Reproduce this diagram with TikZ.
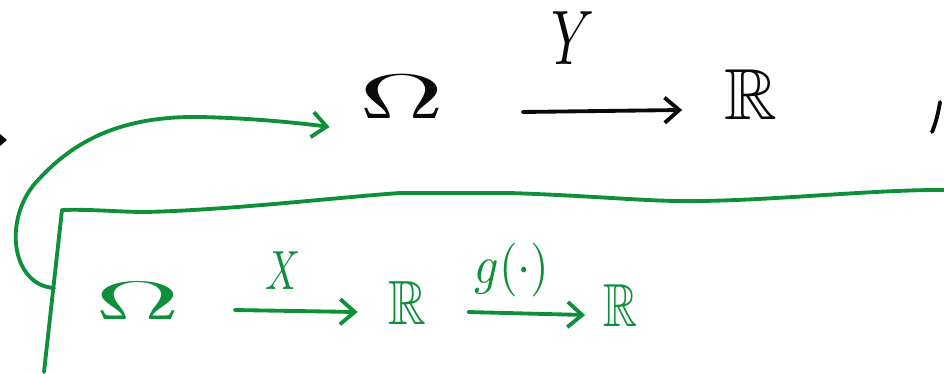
\documentclass[tikz,border=0pt]{standalone}
\usepackage{amssymb}
\usetikzlibrary{arrows.meta}
\definecolor{ink}{RGB}{10,10,10}
\definecolor{pen}{RGB}{14,143,58}
\begin{document}
\begin{tikzpicture}[x=0.0265cm,y=-0.0265cm,
  stroke/.style={line width=2.9pt, line cap=round, line join=round},
  arr/.style={stroke, -{Straight Barb[length=11pt,width=19pt,line width=2.9pt]}},
  sym/.style={inner sep=0pt, outer sep=0pt}]
\useasboundingbox (0,0) rectangle (944,373);
\clip (0,0) rectangle (944,373);

% upper row: Y maps Omega into the reals
\node[sym, ink] (om1) at (402,97) {\resizebox{2.25cm}{1.14cm}{$\Omega$}};
\node[sym, ink] (r1) at (751,95) {\resizebox{1.40cm}{1.32cm}{$\mathbb{R}$}};
\node[sym, ink] (ylab) at (573,38) {\resizebox{1.14cm}{1.40cm}{$Y$}};
\draw[arr, ink] ([xshift=59pt,yshift=-11.3pt]om1.east) -- ([xshift=-32pt,yshift=-11.3pt]r1.west);

% trailing comma and the arrow tip at the far left
\draw[stroke, ink] (940,102) .. controls (938,115) and (935,125) .. (932,132);
\coordinate (tipin) at (-30,140);
\coordinate (tip) at (7,140);
\draw[arr, ink] (tipin) -- (tip);

% bracket enclosing the composed map
\coordinate (bl) at (44,372);
\coordinate (bc) at (62,210);
\coordinate (hook) at (54,288);
\draw[stroke, pen] (bl) -- (bc)
  .. controls (90,209) and (120,212) .. (145,212)
  .. controls (230,210) and (330,198) .. (400,193)
  -- (510,193)
  .. controls (600,196) and (650,202) .. (700,201)
  .. controls (780,200) and (880,189) .. (950,190);

% lower row: Omega --X--> R --g--> R
\node[sym, pen] (om2) at (138,301) {\resizebox{2.25cm}{0.98cm}{$\Omega$}};
\node[sym, pen] (r2) at (407,303) {\resizebox{1.0cm}{1.14cm}{$\mathbb{R}$}};
\node[sym, pen] (r3) at (620,306) {\resizebox{0.9cm}{1.11cm}{$\mathbb{R}$}};
\node[sym, pen] (xlab) at (283,271) {\resizebox{0.93cm}{1.0cm}{$X$}};
\node[sym, pen] (glab) at (512,270) {\resizebox*{1.99cm}{1.43cm}{$g(\cdot)$}};
\draw[arr, pen] ([xshift=41pt,yshift=-6.8pt]om2.east) -- ([xshift=-23pt,yshift=-6.8pt]r2.west);
\draw[arr, pen] ([xshift=32pt,yshift=-6.8pt]r2.east) -- ([xshift=-13.5pt,yshift=-6.8pt]r3.west);

% curved arrow from the bracket back up to the upper Omega
\draw[arr, pen] (hook)
  .. controls (10,285) and (2,215) .. (40,178)
  .. controls (80,135) and (130,116) .. (200,117)
  .. controls (250,118) and (300,123) .. ([xshift=-22.6pt,yshift=-22.6pt]om1.west);
\end{tikzpicture}
\end{document}
